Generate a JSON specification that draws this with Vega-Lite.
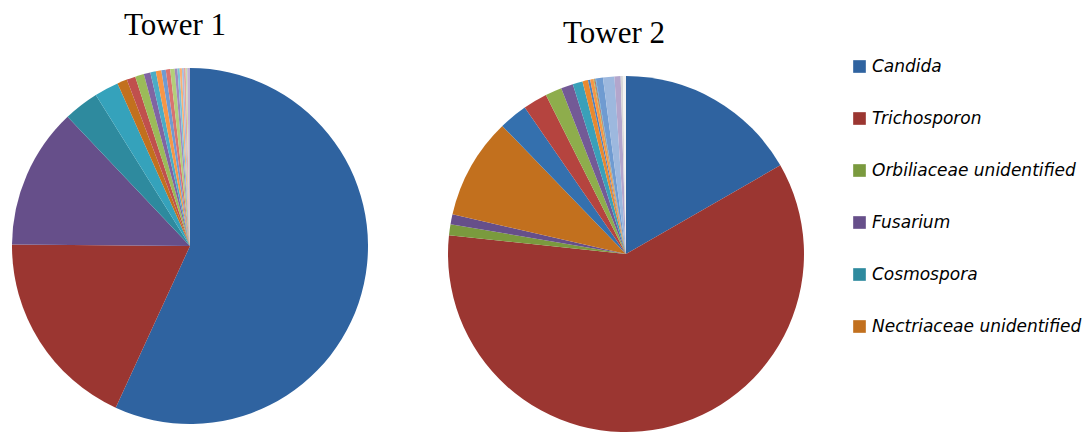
{
  "$schema": "https://vega.github.io/schema/vega-lite/v6.json",
  "background": "white",
  "padding": {"left": 12, "top": 10, "right": 0, "bottom": 0},
  "bounds": "flush",
  "config": {"view": {"stroke": null}, "concat": {"spacing": 80}},
  "datasets": {
    "t1": [
      {"k": 1, "taxon": "Candida", "value": 56.9},
      {"k": 2, "taxon": "Trichosporon", "value": 18.3},
      {"k": 3, "taxon": "Fusarium", "value": 12.8},
      {"k": 4, "taxon": "Cosmospora", "value": 3.2},
      {"k": 5, "taxon": "a1", "value": 2.2},
      {"k": 6, "taxon": "Nectriaceae unidentified", "value": 0.9},
      {"k": 7, "taxon": "a2", "value": 0.8},
      {"k": 8, "taxon": "a3", "value": 0.8},
      {"k": 9, "taxon": "a4", "value": 0.6},
      {"k": 10, "taxon": "a5", "value": 0.5},
      {"k": 11, "taxon": "a6", "value": 0.5},
      {"k": 12, "taxon": "a7", "value": 0.4},
      {"k": 13, "taxon": "a8", "value": 0.4},
      {"k": 14, "taxon": "a9", "value": 0.4},
      {"k": 15, "taxon": "a10", "value": 0.25},
      {"k": 16, "taxon": "a11", "value": 0.2},
      {"k": 17, "taxon": "a12", "value": 0.2},
      {"k": 18, "taxon": "a13", "value": 0.17},
      {"k": 19, "taxon": "a14", "value": 0.17},
      {"k": 20, "taxon": "a15", "value": 0.14},
      {"k": 21, "taxon": "a16", "value": 0.25}
    ],
    "t2": [
      {"k": 1, "taxon": "Candida", "value": 16.7},
      {"k": 2, "taxon": "Trichosporon", "value": 60.0},
      {"k": 3, "taxon": "Orbiliaceae unidentified", "value": 1.0},
      {"k": 4, "taxon": "Fusarium", "value": 0.9},
      {"k": 5, "taxon": "Nectriaceae unidentified", "value": 9.2},
      {"k": 6, "taxon": "b1", "value": 2.6},
      {"k": 7, "taxon": "b2", "value": 2.2},
      {"k": 8, "taxon": "b3", "value": 1.5},
      {"k": 9, "taxon": "b4", "value": 1.1},
      {"k": 10, "taxon": "b5", "value": 0.9},
      {"k": 11, "taxon": "b6", "value": 0.5},
      {"k": 12, "taxon": "b7", "value": 0.2},
      {"k": 13, "taxon": "b8", "value": 0.3},
      {"k": 14, "taxon": "b9", "value": 0.08},
      {"k": 15, "taxon": "b10", "value": 0.08},
      {"k": 16, "taxon": "b11", "value": 0.06},
      {"k": 17, "taxon": "b12", "value": 0.64},
      {"k": 18, "taxon": "b13", "value": 1.03},
      {"k": 19, "taxon": "b14", "value": 0.56},
      {"k": 20, "taxon": "b15", "value": 0.2},
      {"k": 21, "taxon": "b16", "value": 0.28}
    ]
  },
  "resolve": {"scale": {"color": "shared"}},
  "hconcat": [
    {
      "title": {"text": "Tower 1", "font": "Liberation Serif", "fontSize": 31, "fontWeight": "normal", "color": "black", "anchor": "middle", "baseline": "alphabetic", "offset": 2, "dx": -15},
      "data": {"name": "t1"},
      "width": 356,
      "height": 356,
      "mark": {"type": "arc", "outerRadius": 178},
      "encoding": {
        "theta": {"field": "value", "type": "quantitative", "stack": true},
        "order": {"field": "k", "type": "quantitative"},
        "color": {"field": "taxon", "type": "nominal"}
      }
    },
    {
      "title": {"text": "Tower 2", "font": "Liberation Serif", "fontSize": 31, "fontWeight": "normal", "color": "black", "anchor": "middle", "baseline": "alphabetic", "offset": -6, "dx": -12},
      "data": {"name": "t2"},
      "width": 356,
      "height": 372,
      "mark": {"type": "arc", "outerRadius": 178},
      "encoding": {
        "theta": {"field": "value", "type": "quantitative", "stack": true},
        "order": {"field": "k", "type": "quantitative"},
        "color": {
          "field": "taxon",
          "type": "nominal",
          "scale": {
            "domain": ["Candida", "Trichosporon", "Orbiliaceae unidentified", "Fusarium", "Cosmospora", "Nectriaceae unidentified",
              "a1", "a2", "a3", "a4", "a5", "a6", "a7", "a8", "a9", "a10", "a11", "a12", "a13", "a14", "a15", "a16",
              "b1", "b2", "b3", "b4", "b5", "b6", "b7", "b8", "b9", "b10", "b11", "b12", "b13", "b14", "b15", "b16"],
            "range": ["#2F63A0", "#9B3631", "#7A9A3E", "#664F8A", "#2E8A9E", "#C2701E",
              "#35A2BB", "#C0504D", "#9BBB59", "#8064A2", "#4BACC6", "#F79646", "#6F9BD1", "#D9736F", "#B3CF7A", "#9F89BE", "#79C4D8", "#F9B074", "#A5BFE0", "#E3A5A3", "#CDDDAA", "#C0B3D6",
              "#3470AE", "#B5443F", "#8EAD4C", "#735A96", "#3AA0B9", "#E8892F", "#4F81BD", "#F79646", "#9BBB59", "#C0504D", "#4BACC6", "#6F9BD1", "#9DB8DE", "#B3A6CC", "#D8D8D8", "#F2F2F2"]
          },
          "legend": {
            "orient": "none",
            "legendX": 839,
            "legendY": -10,
            "title": null,
            "values": ["Candida", "Trichosporon", "Orbiliaceae unidentified", "Fusarium", "Cosmospora", "Nectriaceae unidentified"],
            "symbolType": "square",
            "symbolSize": 160,
            "symbolStrokeWidth": 0,
            "labelFont": "DejaVu Sans",
            "labelFontStyle": "italic",
            "labelFontSize": 17,
            "labelColor": "black",
            "labelOffset": 4,
            "labelLimit": 300,
            "rowPadding": 34
          }
        }
      }
    }
  ]
}
